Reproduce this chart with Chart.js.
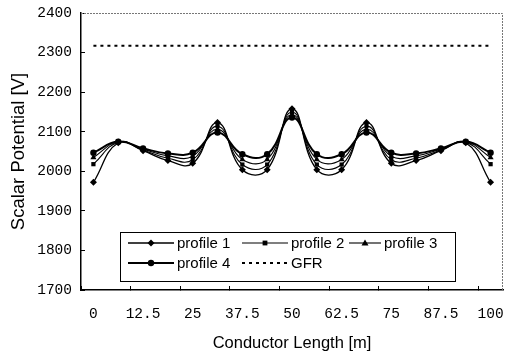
<!DOCTYPE html>
<html>
<head>
<meta charset="utf-8">
<script src="https://cdn.jsdelivr.net/npm/chart.js@4.4.0/dist/chart.umd.min.js"></script>
<style>
  html, body { margin: 0; padding: 0; background: #fff; }
  #wrap { width: 514px; height: 354px; }
</style>
</head>
<body>
<div id="wrap"><canvas id="chart" width="514" height="354"></canvas></div>
<script>
// Conductor length positions [m]
const lengths = ['0', '6.25', '12.5', '18.75', '25', '31.25', '37.5', '43.75', '50',
                 '56.25', '62.5', '68.75', '75', '81.25', '87.5', '93.75', '100'];

// Scalar potential [V] per profile
const profile1 = [1972, 2072, 2052, 2027, 2020, 2123, 2004, 2004, 2158, 2004, 2004, 2123, 2020, 2027, 2052, 2072, 1972];
const profile2 = [2018, 2073, 2054, 2033, 2029, 2114, 2017, 2017, 2150, 2017, 2017, 2114, 2029, 2033, 2054, 2073, 2018];
const profile3 = [2035, 2074, 2056, 2039, 2038, 2106, 2030, 2030, 2143, 2030, 2030, 2106, 2038, 2039, 2056, 2074, 2035];
const profile4 = [2047, 2075, 2058, 2045, 2047, 2098, 2043, 2043, 2136, 2043, 2043, 2098, 2047, 2045, 2058, 2075, 2047];
const gfr      = [2317, 2317, 2317, 2317, 2317, 2317, 2317, 2317, 2317, 2317, 2317, 2317, 2317, 2317, 2317, 2317, 2317];

const yTicks = { min: 1700, max: 2400, step: 100 };

const monoFont = { family: '"Liberation Mono", "DejaVu Sans Mono", monospace', size: 14.5 };
const sansFont = { family: '"Liberation Sans", Arial, sans-serif', size: 15 };

/**
 * Draw a small filled marker in the given style
 */
function drawMarker(ctx, style, x, y, r) {
    ctx.beginPath();
    if (style === 'rectRot') {
        ctx.moveTo(x, y - r); ctx.lineTo(x + r, y); ctx.lineTo(x, y + r); ctx.lineTo(x - r, y);
    } else if (style === 'rect') {
        ctx.rect(x - r * 0.8, y - r * 0.8, r * 1.6, r * 1.6);
    } else if (style === 'triangle') {
        ctx.moveTo(x, y - r); ctx.lineTo(x + r, y + r * 0.7); ctx.lineTo(x - r, y + r * 0.7);
    } else if (style === 'circle') {
        ctx.arc(x, y, r, 0, Math.PI * 2);
    } else {
        return;
    }
    ctx.closePath();
    ctx.fill();
}

// Frame around the plot area (top and right are lighter in the original)
const plotFrame = {
    id: 'plotFrame',
    beforeDatasetsDraw(chart) {
        const { ctx, chartArea: a } = chart;
        ctx.save();
        ctx.strokeStyle = '#777';
        ctx.lineWidth = 1;
        ctx.setLineDash([2, 1]);
        ctx.beginPath();
        ctx.moveTo(a.left, a.top + 0.5);
        ctx.lineTo(a.right - 0.5, a.top + 0.5);
        ctx.lineTo(a.right - 0.5, a.bottom);
        ctx.stroke();
        ctx.restore();
    }
};

// Boxed legend sitting inside the plot area, bottom left
const boxLegend = {
    id: 'boxLegend',
    afterDraw(chart) {
        const { ctx, chartArea: a } = chart;
        const x0 = a.left + 39, y0 = a.top + 219, w = 335, h = 49;
        const colX = [8, 122, 229];
        const colLen = [46, 46, 32];
        const rowY = [11, 31];

        ctx.save();
        ctx.fillStyle = '#fff';
        ctx.fillRect(x0, y0, w, h);
        ctx.strokeStyle = '#000';
        ctx.lineWidth = 1;
        ctx.strokeRect(x0 + 0.5, y0 + 0.5, w, h);

        ctx.font = `${sansFont.size}px ${sansFont.family}`;
        ctx.textBaseline = 'middle';
        ctx.textAlign = 'left';

        chart.data.datasets.forEach((ds, i) => {
            const row = Math.floor(i / 3), col = i % 3;
            const lx = x0 + colX[col], ly = y0 + rowY[row], len = colLen[col];
            ctx.strokeStyle = ds.borderColor;
            ctx.fillStyle = ds.borderColor;
            ctx.lineWidth = ds.borderWidth;
            ctx.setLineDash(ds.borderDash || []);
            ctx.beginPath();
            ctx.moveTo(lx, ly);
            ctx.lineTo(lx + len, ly);
            ctx.stroke();
            ctx.setLineDash([]);
            drawMarker(ctx, ds.pointStyle, lx + len / 2, ly, ds.pointRadius);
            ctx.fillStyle = '#000';
            ctx.fillText(ds.label, lx + len + 3, ly + 1);
        });
        ctx.restore();
    }
};

function makeSeries(label, data, style, width, radius) {
    return {
        label: label,
        data: data,
        borderColor: '#000',
        backgroundColor: '#000',
        borderWidth: width,
        pointStyle: style,
        pointRadius: radius,
        pointHoverRadius: radius,
        pointBorderWidth: 0,
        tension: 0.45
    };
}

const datasets = [
    makeSeries('profile 1', profile1, 'rectRot', 1.3, 3.5),
    makeSeries('profile 2', profile2, 'rect', 1.1, 3),
    makeSeries('profile 3', profile3, 'triangle', 1.1, 3.5),
    makeSeries('profile 4', profile4, 'circle', 2, 3.2),
    {
        label: 'GFR',
        data: gfr,
        borderColor: '#000',
        backgroundColor: '#000',
        borderWidth: 2,
        borderDash: [3, 4],
        pointRadius: 0,
        pointStyle: false,
        tension: 0
    }
];

new Chart(document.getElementById('chart'), {
    type: 'line',
    data: { labels: lengths, datasets: datasets },
    options: {
        responsive: false,
        animation: false,
        layout: { padding: { top: 13, right: 11, left: 0, bottom: 0 } },
        plugins: {
            legend: { display: false },
            tooltip: { enabled: false }
        },
        scales: {
            x: {
                offset: true,
                grid: {
                    offset: true,
                    drawOnChartArea: false,
                    drawTicks: true,
                    tickLength: -4,
                    color: (c) => (c.index % 2 === 0 ? '#000' : 'rgba(0,0,0,0)')
                },
                border: { display: true, color: '#000', width: 1.5 },
                ticks: {
                    autoSkip: false,
                    maxRotation: 0,
                    padding: 19,
                    color: '#000',
                    font: monoFont,
                    callback: (v, i) => (i % 2 === 0 ? lengths[i] : '')
                },
                title: {
                    display: true,
                    text: 'Conductor Length [m]',
                    color: '#000',
                    font: { family: sansFont.family, size: 16.5 },
                    padding: { top: 4, bottom: 1 }
                },
                afterFit: (s) => {
                    s.height = 64;
                    s.paddingLeft = 0;
                    s.paddingRight = 0;
                }
            },
            y: {
                min: yTicks.min,
                max: yTicks.max,
                grid: {
                    drawOnChartArea: false,
                    drawTicks: true,
                    tickLength: -4,
                    color: '#000'
                },
                border: { display: true, color: '#000', width: 1.5 },
                ticks: {
                    stepSize: yTicks.step,
                    padding: 13,
                    color: '#000',
                    font: monoFont,
                    callback: (v) => String(v)
                },
                title: {
                    display: true,
                    text: 'Scalar Potential [V]',
                    color: '#000',
                    font: { family: sansFont.family, size: 18.5 },
                    padding: { top: 8, bottom: 4 }
                },
                afterFit: (s) => {
                    s.width = 81;
                    s.paddingTop = 0;
                    s.paddingBottom = 0;
                }
            }
        }
    },
    plugins: [plotFrame, boxLegend]
});
</script>
</body>
</html>
